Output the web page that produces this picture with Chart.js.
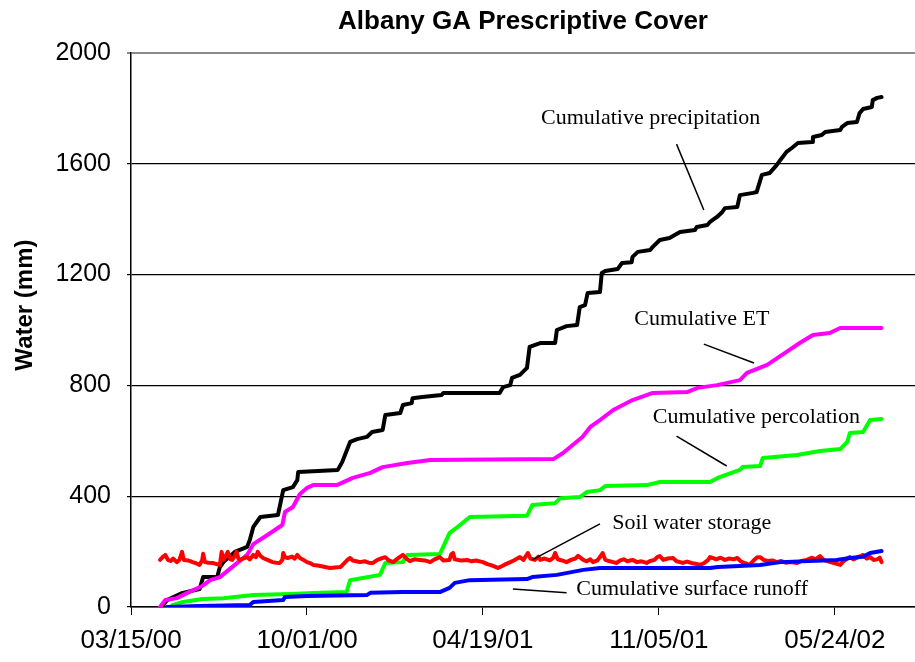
<!DOCTYPE html>
<html>
<head>
<meta charset="utf-8">
<title>Albany GA Prescriptive Cover</title>
<script src="https://cdn.jsdelivr.net/npm/chart.js@4.4.0/dist/chart.umd.min.js"></script>
<style>
    body { margin: 0; background: #fff; }
    #graph { display: block; }
</style>
</head>
<body>
<canvas id="graph" width="915" height="662"></canvas>
<script>
// x values are days counted from 03/15/00
const tickDays = [0, 200, 400, 600, 800];
const tickLabels = ['03/15/00', '10/01/00', '04/19/01', '11/05/01', '05/24/02'];

const precipDays = [35, 41, 58, 78, 82, 98, 101, 105, 118, 132, 135, 139, 147, 167, 173, 184, 189, 190, 235, 240, 249, 257, 268, 274, 286, 289, 306, 309, 319, 320, 331, 353, 355, 419, 423, 431, 433, 442, 450, 453, 465, 482, 484, 495, 507, 510, 516, 519, 533, 535, 539, 553, 558, 569, 570, 576, 590, 593, 601, 612, 618, 624, 641, 643, 655, 658, 666, 672, 675, 689, 692, 707, 711, 717, 726, 734, 738, 745, 751, 758, 774, 775, 785, 789, 806, 808, 814, 825, 828, 832, 842, 843, 848, 853];
const precipMm = [0, 25, 50, 65, 108, 108, 144, 162, 199, 217, 242, 289, 325, 332, 422, 433, 458, 487, 495, 523, 596, 606, 614, 632, 639, 693, 700, 729, 736, 754, 758, 765, 773, 773, 794, 801, 827, 838, 863, 939, 953, 953, 1000, 1014, 1018, 1083, 1090, 1134, 1137, 1206, 1213, 1220, 1242, 1245, 1264, 1282, 1289, 1300, 1325, 1332, 1343, 1354, 1361, 1372, 1379, 1390, 1408, 1426, 1440, 1444, 1487, 1495, 1498, 1560, 1567, 1596, 1614, 1643, 1657, 1675, 1679, 1697, 1704, 1715, 1722, 1733, 1747, 1751, 1783, 1798, 1805, 1830, 1838, 1841];

const etDays = [33, 39, 52, 64, 81, 90, 101, 118, 132, 139, 155, 172, 175, 184, 192, 200, 207, 234, 252, 272, 286, 314, 340, 480, 491, 502, 513, 522, 533, 548, 570, 593, 632, 644, 666, 692, 700, 723, 745, 760, 775, 794, 806, 853];
const etMm = [0, 25, 32, 51, 76, 97, 108, 152, 188, 227, 260, 296, 343, 361, 408, 430, 440, 440, 466, 484, 505, 520, 531, 534, 556, 585, 614, 650, 675, 711, 747, 773, 776, 791, 801, 819, 845, 874, 921, 953, 982, 989, 1007, 1007];

const percDays = [47, 59, 81, 105, 139, 181, 215, 245, 249, 257, 283, 289, 309, 314, 351, 362, 374, 385, 450, 456, 482, 488, 510, 518, 533, 539, 586, 601, 658, 669, 692, 695, 715, 718, 757, 783, 806, 814, 817, 832, 840, 853];
const percMm = [7, 18, 29, 32, 43, 47, 51, 54, 97, 101, 116, 159, 162, 188, 191, 267, 296, 325, 329, 368, 375, 393, 397, 415, 422, 437, 440, 451, 451, 469, 495, 505, 509, 538, 549, 563, 570, 596, 628, 632, 675, 679];

const storageDays = [33, 36, 39, 42, 45, 48, 52, 55, 58, 60, 65, 70, 74, 78, 81, 82, 84, 88, 93, 97, 101, 103, 105, 107, 110, 113, 115, 118, 120, 122, 124, 128, 132, 135, 139, 142, 144, 147, 150, 155, 161, 165, 169, 172, 173, 175, 178, 183, 186, 189, 192, 196, 200, 204, 207, 212, 218, 226, 232, 238, 243, 246, 249, 252, 256, 260, 266, 270, 275, 280, 284, 289, 293, 298, 303, 306, 309, 313, 317, 322, 328, 334, 340, 345, 351, 355, 362, 364, 366, 368, 375, 382, 387, 392, 400, 405, 410, 417, 422, 426, 431, 435, 439, 442, 446, 449, 451, 454, 459, 463, 465, 470, 476, 480, 482, 485, 490, 495, 500, 505, 508, 510, 514, 518, 522, 525, 530, 534, 536, 539, 544, 548, 552, 556, 560, 564, 570, 575, 580, 586, 590, 595, 598, 601, 605, 610, 616, 620, 624, 627, 632, 638, 643, 647, 652, 656, 658, 661, 665, 670, 675, 680, 685, 689, 693, 698, 703, 707, 710, 712, 715, 719, 724, 729, 734, 739, 744, 750, 757, 762, 768, 774, 778, 783, 787, 792, 797, 802, 806, 810, 814, 817, 821, 826, 830, 832, 836, 840, 844, 848, 851, 853];
const storageMm = [170, 180, 188, 170, 166, 175, 162, 170, 199, 170, 168, 162, 158, 152, 170, 192, 162, 160, 159, 155, 152, 199, 170, 180, 199, 172, 170, 185, 199, 175, 170, 176, 180, 172, 188, 180, 199, 185, 177, 170, 162, 160, 159, 170, 195, 180, 177, 182, 175, 188, 177, 170, 162, 158, 152, 150, 146, 141, 143, 144, 160, 170, 177, 168, 165, 162, 165, 160, 159, 170, 175, 180, 168, 162, 175, 182, 188, 175, 166, 172, 170, 168, 162, 172, 180, 168, 170, 190, 195, 172, 168, 170, 165, 168, 162, 155, 150, 141, 148, 155, 162, 168, 175, 180, 170, 185, 195, 175, 170, 182, 170, 175, 168, 178, 195, 172, 168, 162, 170, 175, 185, 180, 170, 165, 172, 162, 168, 185, 195, 170, 165, 162, 159, 168, 172, 165, 170, 162, 165, 159, 166, 170, 180, 184, 170, 175, 177, 165, 162, 159, 164, 158, 155, 152, 160, 170, 180, 177, 172, 178, 170, 175, 172, 177, 165, 158, 152, 166, 175, 180, 180, 170, 166, 168, 162, 166, 160, 162, 159, 166, 170, 178, 172, 184, 170, 165, 160, 156, 152, 166, 175, 180, 172, 180, 185, 188, 175, 180, 170, 172, 178, 162];

const runoffDays = [41, 78, 135, 139, 173, 175, 200, 268, 272, 309, 351, 362, 368, 385, 450, 456, 484, 514, 533, 658, 667, 715, 738, 802, 817, 832, 840, 853];
const runoffMm = [0, 4, 7, 18, 25, 36, 40, 43, 51, 54, 54, 69, 87, 97, 101, 108, 116, 134, 141, 141, 144, 152, 162, 170, 177, 181, 195, 202];

const yTickValues = [0, 400, 800, 1200, 1600, 2000];

// callout labels, placed in data units (day, mm)
const notes = [
    { text: 'Cumulative precipitation', at: [466, 1765], from: [620, 1671], to: [651, 1433] },
    { text: 'Cumulative ET', at: [572, 1040], from: [651, 949], to: [708, 881] },
    { text: 'Cumulative percolation', at: [593, 686], from: [620, 617], to: [677, 509] },
    { text: 'Soil water storage', at: [547, 303], from: [533, 300], to: [456, 170] },
    { text: 'Cumulative surface runoff', at: [506, 65], from: [434, 65], to: [495, 51] }
];

const toPoints = (days, mm) => days.map((d, i) => ({ x: d, y: mm[i] }));

function series(label, days, mm, color) {
    return {
        label: label,
        data: toPoints(days, mm),
        borderColor: color,
        backgroundColor: color,
        borderWidth: 4,
        pointRadius: 0,
        tension: 0,
        borderJoinStyle: 'round',
        borderCapStyle: 'round'
    };
}

const notesPlugin = {
    id: 'notes',
    afterDatasetsDraw(chart) {
        const ctx = chart.ctx;
        const x = chart.scales.x;
        const y = chart.scales.y;
        ctx.save();
        ctx.fillStyle = '#000';
        ctx.strokeStyle = '#000';
        ctx.lineWidth = 1.5;
        ctx.font = '22px "Liberation Serif", "Times New Roman", serif';
        ctx.textBaseline = 'middle';
        ctx.textAlign = 'left';
        notes.forEach(n => {
            ctx.fillText(n.text, x.getPixelForValue(n.at[0]), y.getPixelForValue(n.at[1]));
            ctx.beginPath();
            ctx.moveTo(x.getPixelForValue(n.from[0]), y.getPixelForValue(n.from[1]));
            ctx.lineTo(x.getPixelForValue(n.to[0]), y.getPixelForValue(n.to[1]));
            ctx.stroke();
        });
        // axis title
        ctx.font = 'bold 24px "Liberation Sans", Arial, sans-serif';
        ctx.textAlign = 'center';
        ctx.translate(25, y.getPixelForValue(1090));
        ctx.rotate(-Math.PI / 2);
        ctx.fillText('Water (mm)', 0, 0);
        ctx.restore();
    }
};

const graph = document.getElementById('graph');
new Chart(graph, {
    type: 'line',
    data: {
        datasets: [
            series('Cumulative surface runoff', runoffDays, runoffMm, '#0000ff'),
            series('Soil water storage', storageDays, storageMm, '#ff0000'),
            series('Cumulative percolation', percDays, percMm, '#00ff00'),
            series('Cumulative ET', etDays, etMm, '#ff00ff'),
            series('Cumulative precipitation', precipDays, precipMm, '#000000')
        ]
    },
    options: {
        responsive: false,
        animation: false,
        layout: { padding: 0 },
        plugins: {
            legend: { display: false },
            tooltip: { enabled: false },
            title: {
                display: true,
                text: 'Albany GA Prescriptive Cover',
                fullSize: false,
                color: '#000',
                font: { family: '"Liberation Sans", Arial, sans-serif', size: 26, weight: 'bold', lineHeight: 1.2 },
                padding: { top: 6, bottom: 15.8 }
            }
        },
        scales: {
            x: {
                type: 'linear',
                min: 0,
                max: 891,
                afterFit: s => { s.height = 55; },
                afterBuildTicks: s => { s.ticks = tickDays.map(v => ({ value: v })); },
                border: { color: '#000', width: 1.5 },
                grid: { drawOnChartArea: false, drawTicks: true, tickLength: 8, color: '#000' },
                ticks: {
                    color: '#000',
                    padding: 10,
                    maxRotation: 0,
                    font: { family: '"Liberation Sans", Arial, sans-serif', size: 26 },
                    callback: v => tickLabels[tickDays.indexOf(v)]
                }
            },
            y: {
                min: 0,
                max: 2000,
                afterFit: s => { s.width = 131; },
                afterBuildTicks: s => { s.ticks = yTickValues.map(v => ({ value: v })); },
                border: { color: '#000', width: 1.5 },
                grid: {
                    color: c => c.tick && c.tick.value === 2000 ? '#8a8a8a' : '#000',
                    lineWidth: c => c.tick && c.tick.value === 2000 ? 2 : 1.2,
                    tickLength: 4
                },
                ticks: {
                    color: '#000',
                    padding: 16,
                    font: { family: '"Liberation Sans", Arial, sans-serif', size: 25 },
                    callback: v => String(v)
                }
            }
        }
    },
    plugins: [notesPlugin]
});
</script>
</body>
</html>
